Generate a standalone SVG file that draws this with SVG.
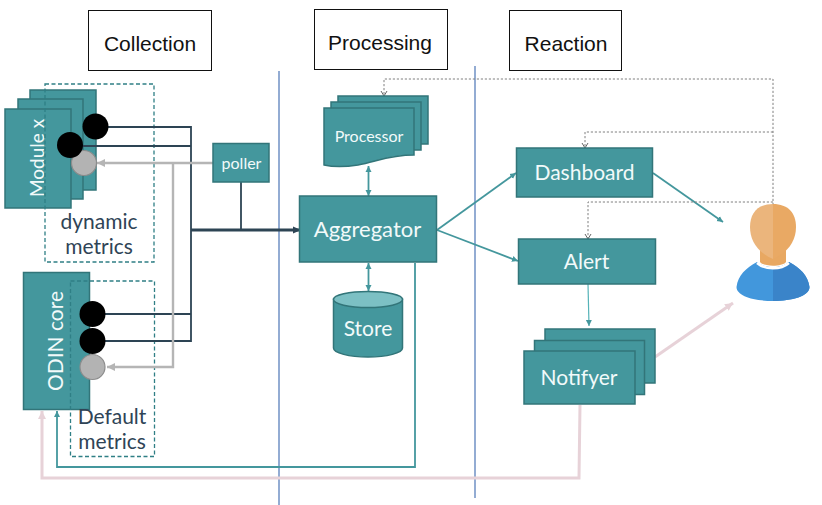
<svg xmlns="http://www.w3.org/2000/svg" width="822" height="505" viewBox="0 0 822 505">
<style>
.t{fill:#44979d;stroke:#327579;stroke-width:1.5}
.w{fill:#f2fafa;font-family:"Lato","Open Sans",sans-serif;text-anchor:middle}
.h{fill:#fff;stroke:#111;stroke-width:1}
.ht{fill:#111;font-family:"Liberation Sans",Arial,sans-serif;font-size:21px;text-anchor:middle}
.d{fill:none;stroke:#2f7f85;stroke-width:1.3;stroke-dasharray:4 2.5}
.lab{fill:#2f4456;font-family:"Lato","Open Sans",sans-serif;font-size:21px;text-anchor:middle}
.blk{fill:#000}
.gry{fill:#b3b3b3;stroke:#8c8c8c;stroke-width:1.2}
.c{fill:none;stroke-linejoin:miter}
.dark{stroke:#2d4454;stroke-width:1.8}
.grey{stroke:#b5b5b5;stroke-width:2.4}
.tl{stroke:#44979d;stroke-width:1.8}
.pink{stroke:#e7d2d8;stroke-width:3}
.dot{stroke:#808080;stroke-width:1;stroke-dasharray:2.2 1.8}
</style>
<defs>
<marker id="at" markerWidth="7" markerHeight="7" refX="6" refY="3.5" orient="auto-start-reverse" markerUnits="userSpaceOnUse"><path d="M0 .5L6 3.5L0 6.5z" fill="#44979d"/></marker>
<marker id="ag" markerWidth="10" markerHeight="10" refX="8" refY="5" orient="auto" markerUnits="userSpaceOnUse"><path d="M0 1L8 5L0 9z" fill="#b5b5b5"/></marker>
<marker id="ap" markerWidth="10" markerHeight="10" refX="8" refY="5" orient="auto" markerUnits="userSpaceOnUse"><path d="M0 1L8 5L0 9z" fill="#e7d2d8"/></marker>
<marker id="ad" markerWidth="10" markerHeight="10" refX="8" refY="5" orient="auto" markerUnits="userSpaceOnUse"><path d="M0 1.5L8 5L0 8.5z" fill="#2d4454"/></marker>
<marker id="ao" markerWidth="8" markerHeight="8" refX="6" refY="4" orient="auto" markerUnits="userSpaceOnUse"><path d="M1 1L6 4L1 7" fill="none" stroke="#666" stroke-width="1"/></marker>
</defs>

<g id="lane-lines" fill="none" stroke="#6f90c4" stroke-width="1.5">
<path d="M279 71V505"/><path d="M475 66V498"/>
</g>

<g id="header-collection"><rect class="h" x="88.500" y="10.500" width="123" height="60"/><text class="ht" x="150" y="51">Collection</text></g>
<g id="header-processing"><rect class="h" x="314.500" y="9.500" width="133" height="60"/><text class="ht" x="380" y="50">Processing</text></g>
<g id="header-reaction"><rect class="h" x="509.500" y="10.500" width="112" height="60"/><text class="ht" x="566" y="51">Reaction</text></g>

<g id="module-x">
<rect class="t" x="30" y="90" width="66" height="100"/>
<rect class="t" x="18" y="99" width="65" height="100"/>
<rect class="t" x="5" y="109" width="66" height="99"/>
<text class="w" font-size="19" transform="translate(44 158) rotate(-90)">Module x</text>
</g>
<g id="dynamic-metrics">
<rect class="d" x="45" y="84" width="109" height="178"/>
<text class="lab" x="99" y="229">dynamic</text><text class="lab" x="99" y="254">metrics</text>
</g>
<g id="odin-core">
<rect class="t" x="23.500" y="272.500" width="66" height="137"/>
<text class="w" font-size="21" transform="translate(63 341) rotate(-90)">ODIN core</text>
</g>
<g id="default-metrics">
<rect class="d" x="70.500" y="281" width="84" height="175.500"/>
<text class="lab" x="112" y="424">Default</text><text class="lab" x="112" y="449">metrics</text>
</g>

<g id="connectors" class="c">
<path class="c dark" d="M95 127H191V341H93"/>
<path class="c dark" d="M70 146H191"/>
<path class="c dark" d="M93 314H191"/>
<path class="c grey" d="M173 164V367H107" marker-end="url(#ag)"/>
<path class="c grey" d="M213 163H97" marker-end="url(#ag)"/>
<path class="c dark" d="M241 182V230"/>
<path class="c" stroke="#2d4454" stroke-width="3" d="M191 230H301" marker-end="url(#ad)"/>
<path class="c pink" d="M580 405L579 478H42V411" marker-end="url(#ap)"/>
<path class="c tl" d="M415 263V467H57V411" marker-end="url(#at)"/>
<path class="c tl" d="M368.500 166V196" marker-start="url(#at)" marker-end="url(#at)"/>
<path class="c tl" d="M368.500 263V291" marker-start="url(#at)" marker-end="url(#at)"/>
<path class="c tl" d="M437 230L516 173" marker-end="url(#at)"/>
<path class="c tl" d="M437 230L518 261" marker-end="url(#at)"/>
<path class="c tl" d="M653 173L723 222" marker-end="url(#at)"/>
<path class="c" stroke="#55b3b8" stroke-width="1.2" d="M588 284L589 326" marker-end="url(#at)"/>
<path class="c pink" d="M655 357L733 303" marker-end="url(#ap)"/>
<path class="c dot" d="M773 205V79H384V96" marker-end="url(#ao)"/>
<path class="c dot" d="M773 132H585V148" marker-end="url(#ao)"/>
<path class="c dot" d="M773 202H588V239" marker-end="url(#ao)"/>
</g>

<g id="module-ports">
<circle class="blk" cx="95.500" cy="126.500" r="13"/>
<circle class="gry" cx="84" cy="163" r="12.500"/>
<circle class="blk" cx="70" cy="145" r="13"/>
</g>
<g id="core-ports">
<circle class="blk" cx="92.500" cy="314" r="13"/>
<circle class="blk" cx="92.500" cy="341" r="13"/>
<circle class="gry" cx="92.500" cy="367" r="12.500"/>
</g>

<g id="poller"><rect class="t" x="213" y="143.500" width="56" height="38.500"/><text class="w" x="241.500" y="169" font-size="16">poller</text></g>
<g id="processor">
<rect class="t" x="338" y="96" width="90" height="48"/>
<rect class="t" x="331" y="102" width="90" height="48"/>
<path class="t" d="M324 108H414V155C390 155 378 161 358 165C345 167 333 167 324 165Z"/>
<text class="w" x="369" y="142" font-size="16">Processor</text>
</g>
<g id="aggregator"><rect class="t" x="299.500" y="196" width="137" height="66"/><text class="w" x="367.500" y="237" font-size="22">Aggregator</text></g>
<g id="store">
<path class="t" d="M333.500 299V348C333.500 353 349 357 368 357S402.500 353 402.500 348V299Z"/>
<ellipse cx="368" cy="299.500" rx="34.500" ry="8" fill="#7cc0c4" stroke="#327579" stroke-width="1.500"/>
<text class="w" x="368" y="336" font-size="21">Store</text>
</g>
<g id="dashboard"><rect class="t" x="516.500" y="148" width="136" height="49"/><text class="w" x="584.500" y="180" font-size="21">Dashboard</text></g>
<g id="alert"><rect class="t" x="518.500" y="239" width="137" height="45"/><text class="w" x="586.500" y="269" font-size="21">Alert</text></g>
<g id="notifyer">
<rect class="t" x="545" y="329" width="110" height="54"/>
<rect class="t" x="534.500" y="340.500" width="110" height="54"/>
<rect class="t" x="524" y="351" width="111" height="53"/>
<text class="w" x="579" y="385" font-size="21">Notifyer</text>
</g>
<g id="user">
<path d="M736.500 287C738 275 746 268 757 262C765 269 781 269 789 262C800 268 808 275 809.500 287C809.500 296 792 301 773 301S736.500 296 736.500 287Z" fill="#4297dc"/>
<path d="M773 267C781 267 785 265 789 262C800 268 808 275 809.500 287C809.500 296 792 301 773 301Z" fill="#3a84c9"/>
<path d="M760 246H786V262C782 267 764 267 760 262Z" fill="#e8a862"/>
<path d="M773 204C758 204 750 213 750 227C750 240 757 252 773 259Z" fill="#ebb57c"/>
<path d="M773 204C788 204 796 213 796 227C796 240 789 252 773 259Z" fill="#e9a964"/>
<path d="M757 263C765 270 781 270 789 263" fill="none" stroke="#fff" stroke-width="2.500"/>
</g>
</svg>
